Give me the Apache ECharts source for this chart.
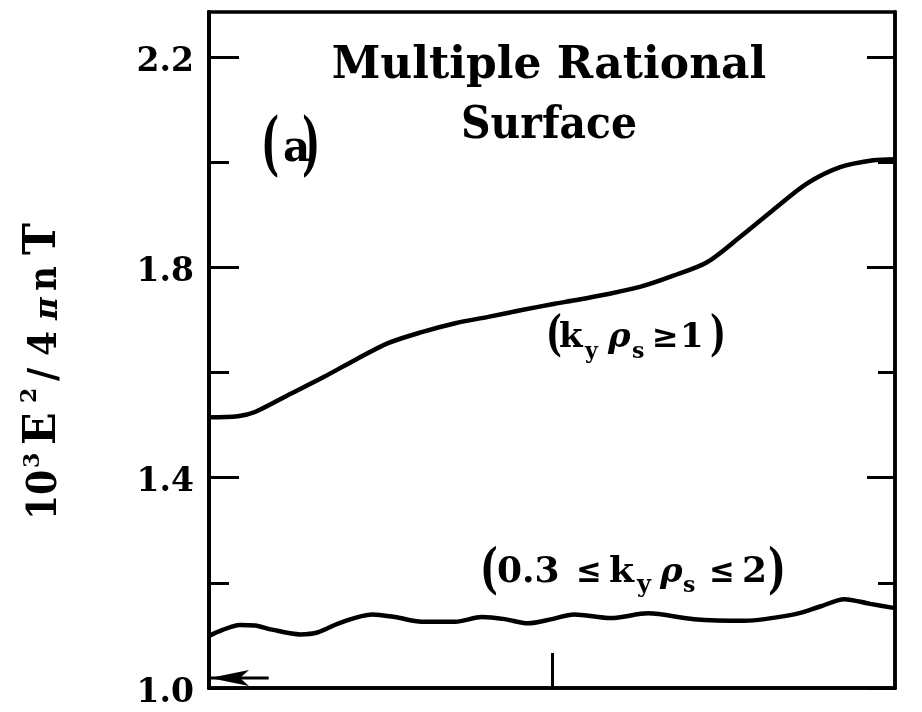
<!DOCTYPE html>
<html>
<head>
<meta charset="utf-8">
<script src="https://cdn.jsdelivr.net/npm/echarts@6/dist/echarts.min.js"></script>
<style>
html,body{margin:0;padding:0;background:#fff;}
#chart{width:922px;height:712px;}
</style>
</head>
<body>
<div id="chart"></div>
<script>
// ---- data ----
const yMajorTicks = [1.0, 1.4, 1.8, 2.2];
const yMinorTicks = [1.2, 1.6, 2.0];
const xTicks = [50];

// upper curve (k_y rho_s >= 1)
const upperX = [0, 4.2, 6.7, 11.5, 16.5, 21.3, 26.1, 31.0, 35.9, 40.7, 45.6, 50.4, 53.1, 58.0, 62.8, 67.6, 72.6, 77.4, 82.2, 87.2, 92.0, 96.8, 100];
const upperY = [1.515, 1.517, 1.525, 1.557, 1.590, 1.624, 1.656, 1.677, 1.694, 1.706, 1.719, 1.731, 1.737, 1.749, 1.763, 1.784, 1.810, 1.858, 1.909, 1.960, 1.991, 2.004, 2.006];

// lower curve (0.3 <= k_y rho_s <= 2)
const lowerX = [0, 1.9, 4.5, 6.7, 9.2, 13.3, 15.9, 19.1, 23.8, 27.1, 31.0, 35.9, 39.8, 43.1, 46.5, 50.0, 53.2, 58.6, 64.0, 70.7, 78.0, 85.3, 89.1, 92.6, 96.4, 100];
const lowerY = [1.099, 1.110, 1.120, 1.119, 1.111, 1.102, 1.106, 1.124, 1.140, 1.135, 1.126, 1.126, 1.135, 1.131, 1.123, 1.131, 1.140, 1.133, 1.142, 1.131, 1.128, 1.140, 1.155, 1.169, 1.160, 1.152];

// arrow near the bottom-left: tail, tip
const arrowLine = [[8.7, 1.019], [0.0, 1.019]];

const titleLines = ['Multiple Rational', 'Surface'];
const panelTag = 'a';

// ---- chart ----
const FF = '"DejaVu Serif"';
const K = 0.34; // middle -> baseline offset (em)

function piece(text, x, baseline, size, weight, sx, align) {
  return {
    type: 'text', x: x, y: baseline - K * size, scaleX: sx || 1,
    style: {
      text: text, font: weight + ' ' + size + 'px ' + FF, fill: '#000',
      align: align || 'left', verticalAlign: 'middle'
    }
  };
}

const upperData = upperX.map((x, i) => [x, upperY[i]]);
const lowerData = lowerX.map((x, i) => [x, lowerY[i]]);

const yBase = {
  type: 'value', min: 1.0, max: 2.286,
  splitLine: { show: false },
  axisLine: { show: false }
};

const yNamePieces = [
  ['10', 0, 0, 41, 'bold', 0.88],
  ['3', 52, -18, 22, 'bold', 1],
  ['E', 75, 0, 45, 'bold', 0.95],
  ['2', 117, -21, 22, 'bold', 1],
  ['/', 139, 0, 40, 'bold', 0.9],
  ['4', 164, 0, 40, 'bold', 0.9],
  ['π', 200, 0, 31, 'italic bold', 1],
  ['n', 229, 0, 40, 'bold', 0.85],
  ['T', 265, 0, 45, 'bold', 0.95]
];

const label1 = [
  ['(', 546, 354, 48, 'bold', 0.7],
  ['k', 559, 350, 34, 'bold', 1],
  ['y', 585, 360, 22, 'bold', 1],
  ['ρ', 608, 350, 34, 'italic bold', 1],
  ['s', 632, 360, 22, 'bold', 1],
  ['≥', 652, 350, 32, 'bold', 1],
  ['1', 680, 350, 34, 'bold', 1],
  [')', 710, 354, 48, 'bold', 0.7]
];
const label2 = [
  ['(', 480, 591, 54, 'bold', 0.7],
  ['0.3', 497, 585, 36, 'bold', 1],
  ['≤', 576, 585, 34, 'bold', 0.9],
  ['k', 609, 585, 36, 'bold', 1],
  ['y', 637, 594, 24, 'bold', 1],
  ['ρ', 660, 585, 34, 'italic bold', 1],
  ['s', 683, 594, 22, 'bold', 1],
  ['≤', 709, 585, 34, 'bold', 0.9],
  ['2', 742, 585, 36, 'bold', 1],
  [')', 768, 591, 54, 'bold', 0.7]
];
const tagPieces = [
  ['(', 261, 173, 70, 'bold', 0.55],
  [panelTag, 283, 164, 42, 'bold', 1],
  [')', 302, 173, 70, 'bold', 0.55]
];

const toEl = p => piece(p[0], p[1], p[2], p[3], p[4], p[5]);

const option = {
  animation: false,
  backgroundColor: '#fff',
  grid: { left: 209, right: 27, top: 12, bottom: 24, show: true, borderColor: '#000', borderWidth: 3.5, backgroundColor: 'transparent' },
  xAxis: {
    type: 'value', min: 0, max: 100,
    axisLine: { show: true, lineStyle: { color: '#000', width: 3.5 } },
    axisTick: { show: true, inside: true, length: 35, customValues: xTicks, lineStyle: { color: '#000', width: 3 } },
    axisLabel: { show: false },
    splitLine: { show: false }
  },
  yAxis: [
    Object.assign({}, yBase, {
      position: 'left',
      axisLine: { show: true, lineStyle: { color: '#000', width: 4 } },
      axisTick: { show: true, inside: true, length: 30, customValues: yMajorTicks, lineStyle: { color: '#000', width: 3 } },
      axisLabel: { show: true, customValues: yMajorTicks, formatter: v => Number(v).toFixed(1), fontFamily: 'DejaVu Serif', fontWeight: 'bold', fontSize: 33, color: '#000', margin: 15, verticalAlign: 'top', lineHeight: 10 }
    }),
    Object.assign({}, yBase, {
      position: 'left',
      axisTick: { show: true, inside: true, length: 20, customValues: yMinorTicks, lineStyle: { color: '#000', width: 3 } },
      axisLabel: { show: false }
    }),
    Object.assign({}, yBase, {
      position: 'right',
      axisLine: { show: true, lineStyle: { color: '#000', width: 3.5 } },
      axisTick: { show: true, inside: true, length: 28, customValues: yMajorTicks, lineStyle: { color: '#000', width: 3 } },
      axisLabel: { show: false }
    }),
    Object.assign({}, yBase, {
      position: 'right',
      axisTick: { show: true, inside: true, length: 17, customValues: yMinorTicks, lineStyle: { color: '#000', width: 3 } },
      axisLabel: { show: false }
    })
  ],
  series: [
    {
      type: 'line', yAxisIndex: 0, data: upperData, smooth: 0.3, showSymbol: false,
      lineStyle: { color: '#000', width: 4.5 }, silent: true
    },
    {
      type: 'line', yAxisIndex: 0, data: lowerData, smooth: 0.3, showSymbol: false,
      lineStyle: { color: '#000', width: 4.5 }, silent: true
    },
    {
      type: 'line', yAxisIndex: 0, data: arrowLine, showSymbol: false,
      lineStyle: { color: '#000', width: 3 }, silent: true
    },
    {
      type: 'custom', yAxisIndex: 0, silent: true, clip: false,
      data: [arrowLine[1]],
      renderItem: function (params, api) {
        const p = api.coord([api.value(0), api.value(1)]);
        return {
          type: 'polygon',
          shape: { points: [[p[0] + 1, p[1]], [p[0] + 40, p[1] - 8], [p[0] + 31, p[1]], [p[0] + 40, p[1] + 8]] },
          style: { fill: '#000' }
        };
      }
    }
  ],
  graphic: [
    piece(titleLines[0], 549, 82, 45, 'bold', 0.977, 'center'),
    piece(titleLines[1], 549, 142, 45, 'bold', 0.91, 'center'),
    { type: 'group', x: 59, y: 520, rotation: Math.PI / 2, children: yNamePieces.map(toEl) }
  ].concat(label1.map(toEl), label2.map(toEl), tagPieces.map(toEl))
};

const chart = echarts.init(document.getElementById('chart'), null, { renderer: 'canvas' });
chart.setOption(option);
</script>
</body>
</html>
